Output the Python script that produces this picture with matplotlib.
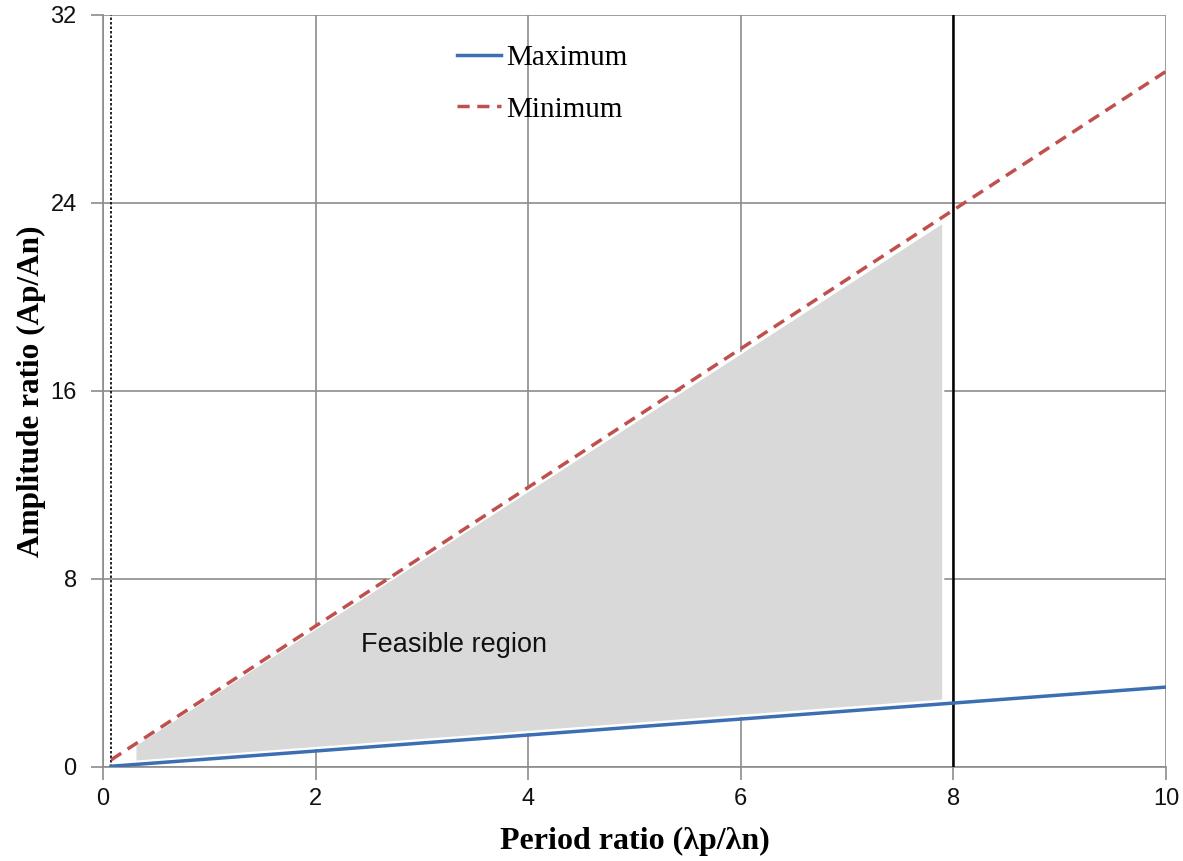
import matplotlib
matplotlib.use("Agg")
import matplotlib.pyplot as plt

# Period ratio (λp/λn) sample points and the two amplitude-ratio bounds
period_ratio = [0.075, 2, 4, 6, 8, 10]
maximum = [0.03, 0.68, 1.36, 2.04, 2.72, 3.4]
minimum = [0.3, 6.0, 11.9, 17.8, 23.7, 29.6]

# Shaded feasible region (edges of the grey polygon)
region_x = [0.3, 7.9]
region_low = [0.25, 2.85]
region_high = [0.95, 23.2]

# Reference vertical lines
lower_limit = 0.075
upper_limit = 8

x_ticks = [0, 2, 4, 6, 8, 10]
y_ticks = [0, 8, 16, 24, 32]

fig = plt.figure(figsize=(11.83, 8.61), dpi=100)
ax = fig.add_axes([0.0871, 0.1092, 0.8985, 0.8734])

ax.fill_between(region_x, region_low, region_high, color="#D9D9D9",
                edgecolor="white", linewidth=1.5, zorder=1)

ax.plot(period_ratio, maximum, color="#3C6EB4", linewidth=2.5,
        label="Maximum", zorder=4)
ax.plot(period_ratio, minimum, color="#C0504D", linewidth=2.5,
        linestyle=(0, (3.5, 2.2)), label="Minimum", zorder=4)

ax.axvline(upper_limit, color="black", linewidth=1.8, zorder=3)
ax.axvline(lower_limit, color="black", linewidth=1.2,
           linestyle=(0, (1.5, 1.2)), zorder=3)

ax.text(2.43, 4.9, "Feasible region", fontsize=19.5, family="Liberation Sans",
        color="#111111", va="baseline", zorder=5)

ax.set_xlim(0, 10)
ax.set_ylim(0, 32)
ax.set_xticks(x_ticks)
ax.set_yticks(y_ticks)
ax.grid(True, color="#8C8C8C", linewidth=1.2, zorder=0)
ax.set_axisbelow(True)
for side in ["top", "right"]:
    ax.spines[side].set_visible(False)
for side in ["left", "bottom"]:
    ax.spines[side].set_color("#8C8C8C")
    ax.spines[side].set_linewidth(1.2)
ax.tick_params(direction="out", length=9, width=1.2, color="#8C8C8C",
               labelsize=17, labelcolor="#111111")
ax.tick_params(axis="y", pad=10)
ax.tick_params(axis="x", pad=6)
for lbl in ax.get_xticklabels() + ax.get_yticklabels():
    lbl.set_family("Liberation Sans")

ax.set_xlabel("Period ratio (λp/λn)", fontsize=23, fontweight="bold",
              family="Liberation Serif", labelpad=12)
ax.set_ylabel("Amplitude ratio (Ap/An)", fontsize=22.5, fontweight="bold",
              family="Liberation Serif", labelpad=3)

leg = ax.legend(loc="upper left", bbox_to_anchor=(0.333, 0.96), frameon=False,
                borderpad=0, borderaxespad=0,
                handlelength=1.5, handletextpad=0.2, labelspacing=0.85,
                prop={"family": "Liberation Serif", "size": 21})

fig.savefig("out.png", dpi=100)
